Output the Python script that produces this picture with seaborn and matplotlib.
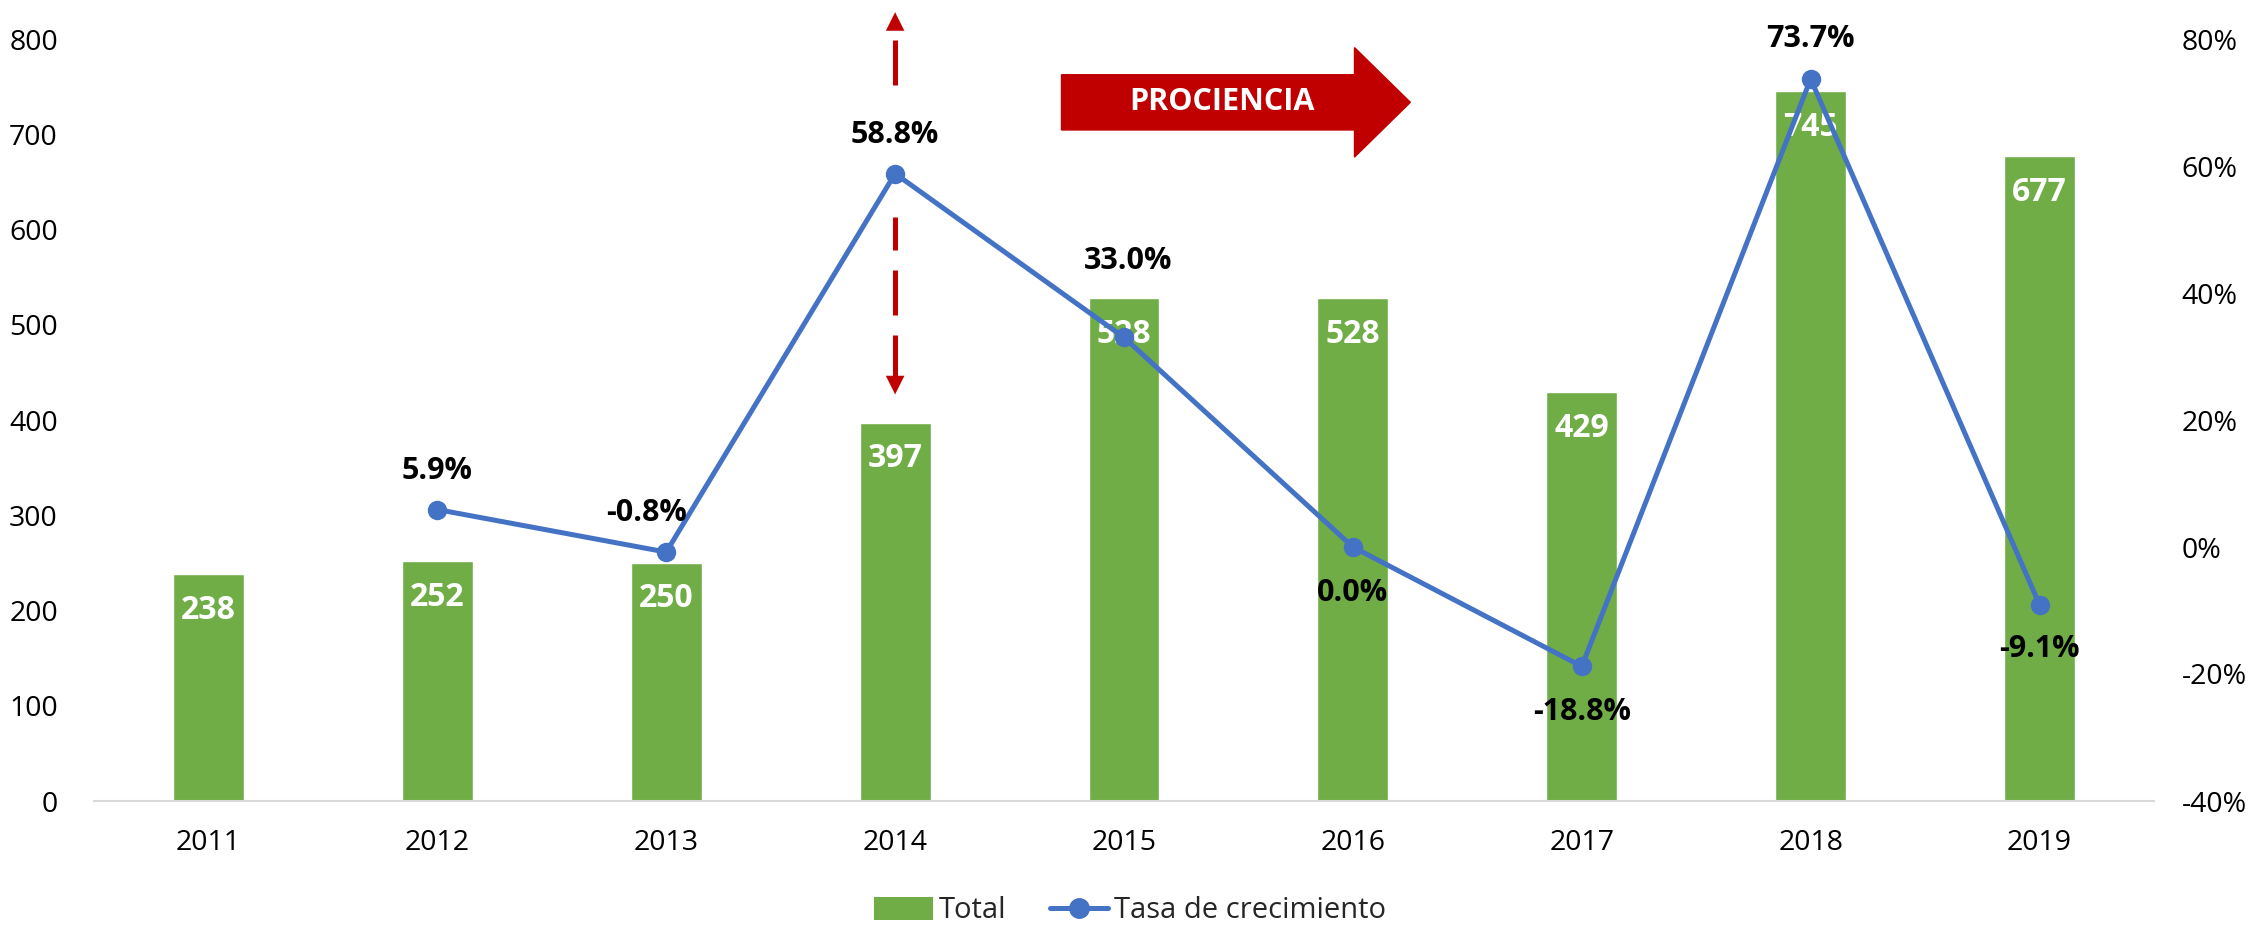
import matplotlib
matplotlib.use("Agg")
import matplotlib.pyplot as plt
from matplotlib.patches import FancyArrow, Patch
from matplotlib.lines import Line2D
from matplotlib.ticker import FuncFormatter
import numpy as np
import pandas as pd
import seaborn as sns

# data
years = ["2011", "2012", "2013", "2014", "2015", "2016", "2017", "2018", "2019"]
totals = [238, 252, 250, 397, 528, 528, 429, 745, 677]
growth = [np.nan, 5.9, -0.8, 58.8, 33.0, 0.0, -18.8, 73.7, -9.1]

GREEN = "#70AD47"
BLUE = "#4472C4"
RED = "#C00000"

sns.set_theme(style="white")
plt.rcParams["font.family"] = ["Open Sans", "DejaVu Sans"]

fig = plt.figure(figsize=(22.6, 9.26), dpi=100)
ax = fig.add_axes([94 / 2260, 1 - 801 / 926, 2060 / 2260, 762 / 926])

df = pd.DataFrame({"year": years, "total": totals, "growth": growth})

sns.barplot(data=df, x="year", y="total", color=GREEN, width=0.31,
            saturation=1, ax=ax, zorder=2)
ax.set_xlim(-0.5, 8.5)
ax.set_ylim(0, 800)
ax.set_yticks(range(0, 801, 100))
ax.set_xlabel("")
ax.set_ylabel("")
for s in ["top", "right", "left"]:
    ax.spines[s].set_visible(False)
ax.spines["bottom"].set_color("#D9D9D9")
ax.spines["bottom"].set_linewidth(1.5)
ax.tick_params(axis="both", length=0, labelsize=20.5, colors="#000000")
ax.tick_params(axis="x", pad=20)
ax.tick_params(axis="y", pad=26)

# bar value labels
for i, v in enumerate(totals):
    ax.annotate(str(v), (i, v), xytext=(0, -26), textcoords="offset points",
                ha="center", va="center", color="white", fontsize=23,
                fontweight="bold", zorder=5)

# growth line on right axis
ax2 = ax.twinx()
line_df = df.dropna(subset=["growth"]).copy()
line_df["pos"] = [years.index(y) for y in line_df["year"]]
sns.lineplot(data=line_df, x="pos", y="growth", color=BLUE, linewidth=3.6,
             marker="o", markersize=14, markeredgewidth=0, ax=ax2, zorder=4)
ax2.set_ylim(-40, 80)
ax2.set_yticks(range(-40, 81, 20))
ax2.yaxis.set_major_formatter(FuncFormatter(lambda v, p: f"{v:.0f}%"))
ax2.set_xlim(-0.5, 8.5)
ax2.set_xlabel("")
ax2.set_ylabel("")
for s in ax2.spines.values():
    s.set_visible(False)
ax2.tick_params(axis="y", length=0, labelsize=20.5, pad=20, colors="#000000")

# growth labels (offsets in points)
offsets = [None, (0, 28), (-14, 28), (0, 28), (3, 55), (0, -33), (0, -33), (0, 29), (0, -32)]
for i, g in enumerate(growth):
    if np.isnan(g):
        continue
    ax2.annotate(f"{g:.1f}%", (i, g), xytext=offsets[i], textcoords="offset points",
                 ha="center", va="center", fontsize=22, fontweight="bold",
                 color="black", zorder=6)

# dashed red double arrow at 2014
ax.plot([3, 3], [752, 801], color=RED, lw=3.6, dashes=(9, 4), clip_on=False, zorder=3)
ax.plot([3, 3], [442, 613], color=RED, lw=3.6, dashes=(9, 4), zorder=3)
ax.annotate("", xy=(3, 831), xytext=(3, 809),
            arrowprops=dict(arrowstyle="-|>,head_length=1.1,head_width=0.55",
                            color=RED, lw=0.1), annotation_clip=False)
ax.annotate("", xy=(3, 424), xytext=(3, 446),
            arrowprops=dict(arrowstyle="-|>,head_length=1.1,head_width=0.55",
                            color=RED, lw=0.1))

# PROCIENCIA arrow
arr = FancyArrow(3.727, 733.5, 1.524, 0, width=58, head_width=115, head_length=0.244,
                 length_includes_head=True, color=RED, zorder=5, clip_on=False)
ax.add_patch(arr)
ax.text(4.43, 733.5, "PROCIENCIA", ha="center", va="center", color="white",
        fontsize=22, fontweight="bold", zorder=6)

# legend
handles = [Patch(facecolor=GREEN, edgecolor="none"),
           Line2D([0], [0], color=BLUE, lw=3.6, marker="o", markersize=14)]
fig.legend(handles, ["Total", "Tasa de crecimiento"], loc="center",
           bbox_to_anchor=(0.5, 1 - 911 / 926), ncol=2, frameon=False,
           fontsize=21, handlelength=2.0, handleheight=0.8, columnspacing=1.5,
           handletextpad=0.2)

fig.savefig("out.png", dpi=100)
